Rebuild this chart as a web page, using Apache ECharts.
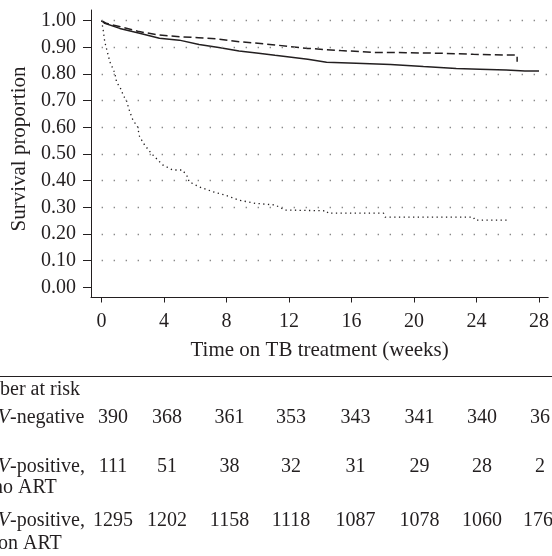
<!DOCTYPE html>
<html>
<head>
<meta charset="utf-8">
<script src="https://cdn.jsdelivr.net/npm/echarts@6/dist/echarts.min.js"></script>
<style>
html,body{margin:0;padding:0;background:#fff;}
#main{width:552px;height:556px;}
</style>
</head>
<body>
<div id="main"></div>
<script>
// ---- data ----
const xTicks = [0, 4, 8, 12, 16, 20, 24, 28];
const yTicks = [0, 0.1, 0.2, 0.3, 0.4, 0.5, 0.6, 0.7, 0.8, 0.9, 1.0];
const gridValues = [0.1, 0.2, 0.3, 0.4, 0.5, 0.6, 0.7, 0.8, 0.9, 1.0];

// HIV-negative (dashed)
const negWeeks = [0, 0.3, 1.2, 2.4, 3.7, 5.0, 6.2, 7.5, 8.8, 10.0, 11.1, 13.2, 15.3, 17.4, 19.5, 21.6, 23.8, 25.9, 26.6, 26.6];
const negSurv  = [1.0, 0.99, 0.977, 0.959, 0.946, 0.940, 0.936, 0.931, 0.921, 0.915, 0.909, 0.896, 0.888, 0.881, 0.880, 0.878, 0.874, 0.871, 0.871, 0.846];

// HIV-positive, on ART (solid)
const artWeeks = [0, 0.2, 1.16, 2.43, 3.7, 4.97, 6.24, 7.5, 8.8, 10.05, 11.1, 13.2, 14.4, 16.3, 18.5, 20.6, 22.7, 24.2, 25.9, 27.1, 28.0];
const artSurv  = [1.0, 0.99, 0.971, 0.953, 0.934, 0.927, 0.911, 0.899, 0.886, 0.878, 0.870, 0.855, 0.844, 0.840, 0.836, 0.828, 0.821, 0.818, 0.815, 0.811, 0.811];

// HIV-positive, no ART (dotted)
const noArtWeeks = [0, 0.1, 0.2, 0.53, 0.85, 0.95, 1.06, 1.27, 1.37, 1.59, 1.8, 2.0, 2.3, 2.43, 2.75, 3.17, 3.49, 3.91, 4.55, 5.18, 5.5, 5.6, 6.24, 7.1, 7.9, 8.8, 9.84, 11.1, 11.75, 14.4, 14.5, 18.05, 18.15, 23.8, 23.9, 26.1];
const noArtSurv  = [1.0, 0.965, 0.921, 0.845, 0.803, 0.771, 0.765, 0.740, 0.721, 0.700, 0.659, 0.628, 0.602, 0.565, 0.534, 0.503, 0.484, 0.459, 0.440, 0.440, 0.415, 0.396, 0.377, 0.359, 0.346, 0.327, 0.315, 0.309, 0.290, 0.287, 0.278, 0.278, 0.263, 0.263, 0.252, 0.252];

// Number at risk table (visible text; last column is cut by the image edge)
const riskNeg   = ['390', '368', '361', '353', '343', '341', '340', '36'];
const riskNoArt = ['111', '51', '38', '32', '31', '29', '28', '2'];
const riskArt   = ['1295', '1202', '1158', '1118', '1087', '1078', '1060', '176'];

// ---- layout ----
const FONT = '"Liberation Serif", "Times New Roman", serif';
const INK = '#231f20';
const colX = [113, 167, 229.5, 291, 355.5, 419.5, 482];
const lastColX = [530, 535, 523];
const rowY = [418, 467, 521];

function pairs(xs, ys) { return xs.map((x, i) => [x, ys[i]]); }

const chart = echarts.init(document.getElementById('main'), null, {renderer: 'canvas'});

const graphics = [];
function txt(x, y, s, opt, extra) {
  graphics.push(Object.assign({
    type: 'text', x: x, y: y, silent: true,
    style: Object.assign({
      text: s, fontFamily: FONT, fontSize: 20, fill: INK,
      textAlign: 'left', textVerticalAlign: 'middle'
    }, opt || {})
  }, extra || {}));
}
// y-axis title
txt(19, 149, 'Survival proportion', {textAlign: 'center', fontSize: 21}, {rotation: Math.PI / 2});
// separator line
graphics.push({type: 'line', silent: true, shape: {x1: 0, y1: 376.5, x2: 552, y2: 376.5},
  style: {stroke: INK, lineWidth: 1}});
txt(-40, 390, 'Number at risk');
// row labels
txt(10, rowY[0], 'HIV', {textAlign: 'right', fontStyle: 'italic'});
txt(10, rowY[0], '-negative');
txt(10, rowY[1], 'HIV', {textAlign: 'right', fontStyle: 'italic'});
txt(10, rowY[1], '-positive,');
txt(-7, 488, 'no ART');
txt(10, rowY[2], 'HIV', {textAlign: 'right', fontStyle: 'italic'});
txt(10, rowY[2], '-positive,');
txt(-2, 544, 'on ART');
[riskNeg, riskNoArt, riskArt].forEach((row, r) => {
  row.forEach((v, c) => {
    if (c < colX.length) txt(colX[c], rowY[r], v, {textAlign: 'center'});
    else txt(lastColX[r], rowY[r], v, {textAlign: 'left'});
  });
});

const option = {
  animation: false,
  backgroundColor: '#fff',
  grid: {left: 91, top: 10, right: 0, height: 287.5, containLabel: false},
  xAxis: {
    type: 'value', min: -0.68, max: 28.59,
    name: 'Time on TB treatment (weeks)', nameLocation: 'middle', nameGap: 42,
    nameTextStyle: {fontFamily: FONT, fontSize: 21, color: INK},
    axisLine: {show: true, onZero: false, lineStyle: {color: INK, width: 1}},
    axisTick: {show: true, length: 5, customValues: xTicks, lineStyle: {color: INK}},
    axisLabel: {customValues: xTicks, margin: 14, fontFamily: FONT, fontSize: 20, color: INK},
    splitLine: {show: false}
  },
  yAxis: {
    type: 'value', min: -0.038, max: 1.04,
    axisLine: {show: true, onZero: false, lineStyle: {color: INK, width: 1}},
    axisTick: {show: true, length: 8, customValues: yTicks, lineStyle: {color: INK}},
    axisLabel: {customValues: yTicks, margin: 15, fontFamily: FONT, fontSize: 20, color: INK,
      formatter: v => v.toFixed(2)},
    splitLine: {show: false}
  },
  graphic: graphics,
  series: [
    {
      type: 'line', name: 'grid', data: [], silent: true, z: 1,
      markLine: {
        silent: true, symbol: 'none', animation: false,
        label: {show: false},
        lineStyle: {color: '#8a8a8a', width: 1.4, type: [1.4, 10.6], cap: 'butt'},
        data: gridValues.map(v => [{coord: [0, v]}, {coord: [28.59, v]}])
      }
    },
    {
      type: 'line', name: 'HIV-positive, no ART', data: pairs(noArtWeeks, noArtSurv),
      showSymbol: false, z: 3,
      lineStyle: {color: INK, width: 1.3, type: [1.3, 3.4]}
    },
    {
      type: 'line', name: 'HIV-negative', data: pairs(negWeeks, negSurv),
      showSymbol: false, z: 3,
      lineStyle: {color: INK, width: 1.5, type: [8, 4]}
    },
    {
      type: 'line', name: 'HIV-positive, on ART', data: pairs(artWeeks, artSurv),
      showSymbol: false, z: 4,
      lineStyle: {color: INK, width: 1.5}
    }
  ]
};
chart.setOption(option);
</script>
</body>
</html>
